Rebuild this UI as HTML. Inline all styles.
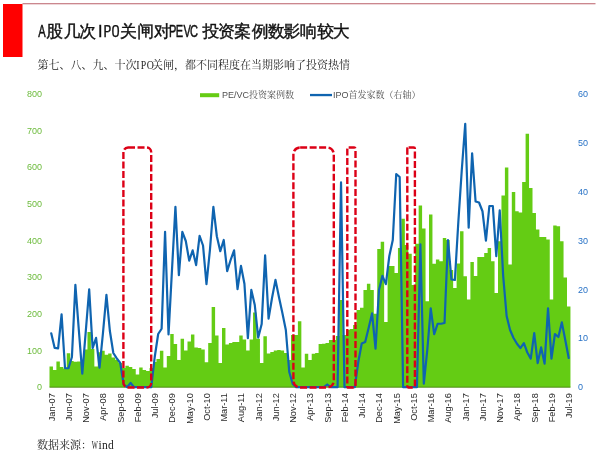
<!DOCTYPE html>
<html><head><meta charset="utf-8"><style>
html,body{margin:0;padding:0;background:#fff;}
body{width:600px;height:455px;overflow:hidden;}
svg{display:block;}
.tc{font-family:"WenQuanYi Zen Hei","Noto Sans CJK SC",sans-serif;font-size:16.8px;fill:#111;stroke:#111;stroke-width:0.4;}
.tl{font-family:"WenQuanYi Zen Hei Mono","WenQuanYi Zen Hei",sans-serif;font-size:16.3px;fill:#111;stroke:#111;stroke-width:0.25;}
.tsl{font-family:"Liberation Sans",sans-serif;font-size:15.6px;fill:#111;stroke:#111;stroke-width:0.45;}
.ti{font-family:"Liberation Sans",sans-serif;font-size:16.3px;fill:#111;stroke:#111;stroke-width:0.4;}
.sub{font-family:"Liberation Serif","Noto Serif CJK SC",serif;font-size:11px;fill:#222;}
.subs{font-family:"Liberation Serif",serif;font-size:12px;fill:#222;}
.subm{font-family:"Liberation Mono",monospace;font-size:11px;fill:#222;}
.lg text{font-family:"Liberation Sans",sans-serif;font-size:9px;fill:#6cbb3c;}
.rg text{font-family:"Liberation Sans",sans-serif;font-size:9px;fill:#2872c6;}
.xl text{font-family:"Liberation Sans",sans-serif;font-size:9.2px;fill:#2a2a2a;text-anchor:end;}
.leg{font-family:"Liberation Sans","Noto Serif CJK SC",serif;font-size:9px;fill:#505050;}
.bx rect{fill:none;stroke:#dc0016;stroke-width:2.4;stroke-dasharray:7 2.5;}
</style></head><body>
<svg width="600" height="455" viewBox="0 0 600 455">
<rect x="3" y="4" width="19.5" height="53" fill="#ff0000"/>
<rect x="22.5" y="3.1" width="573" height="1.2" fill="#c67b82"/>
<text y="37.4"><tspan class="tsl" x="38.3" textLength="7.39" lengthAdjust="spacingAndGlyphs">A</tspan><tspan class="tc" x="46.25 63.5 79.25">股几次</tspan><tspan class="ti" x="98">I</tspan><tspan class="tl" x="103.25 111.5">PO</tspan><tspan class="tc" x="120 137.25 153.75">关闸对</tspan><tspan class="tsl" x="168.89" textLength="7.39" lengthAdjust="spacingAndGlyphs">P</tspan><tspan class="tsl" x="175.69" textLength="7.39" lengthAdjust="spacingAndGlyphs">E</tspan><tspan class="tsl" x="183.4" textLength="7.39" lengthAdjust="spacingAndGlyphs">V</tspan><tspan class="tsl" x="189.89" textLength="8" lengthAdjust="spacingAndGlyphs">C</tspan><tspan class="tc" x="202.5 217.9 234.3 251.7 268.1 283.5 299.9 317.3 332.7">投资案例数影响较大</tspan></text>
<text class="sub" y="69"><tspan x="37.5">第七、八、九、十次</tspan><tspan class="subs" style="font-size:12px" x="136.3" textLength="3.28" lengthAdjust="spacingAndGlyphs">I</tspan><tspan class="subs" style="font-size:12px" x="140.73" textLength="5.47" lengthAdjust="spacingAndGlyphs">P</tspan><tspan class="subs" style="font-size:12px" x="146.63" textLength="7.1" lengthAdjust="spacingAndGlyphs">O</tspan><tspan x="152">关闸，都不同程度在当期影响了投资热情</tspan></text>
<rect x="200" y="93.2" width="19.2" height="4" fill="#66cc14"/>
<text x="222" y="98" class="leg">PE/VC投资案例数</text>
<rect x="310" y="93.9" width="22" height="2.3" fill="#0f64b0"/>
<text x="333" y="98" class="leg">IPO首发家数（右轴）</text>
<g class="lg"><text x="42" y="97.2" text-anchor="end">800</text>
<text x="42" y="133.82" text-anchor="end">700</text>
<text x="42" y="170.45" text-anchor="end">600</text>
<text x="42" y="207.07" text-anchor="end">500</text>
<text x="42" y="243.7" text-anchor="end">400</text>
<text x="42" y="280.32" text-anchor="end">300</text>
<text x="42" y="316.95" text-anchor="end">200</text>
<text x="42" y="353.57" text-anchor="end">100</text>
<text x="42" y="390.2" text-anchor="end">0</text></g>
<g class="rg"><text x="578" y="97.2">60</text>
<text x="578" y="146.03">50</text>
<text x="578" y="194.87">40</text>
<text x="578" y="243.7">30</text>
<text x="578" y="292.53">20</text>
<text x="578" y="341.37">10</text>
<text x="578" y="390.2">0</text></g>
<path d="M49.5 387 L49.5 366.6 L52.95 366.6 L52.95 369.9 L56.4 369.9 L56.4 361.5 L59.85 361.5 L59.85 367 L63.3 367 L63.3 368.5 L66.75 368.5 L66.75 353.3 L70.2 353.3 L70.2 361 L73.65 361 L73.65 361.8 L77.1 361.8 L77.1 361.5 L80.55 361.5 L80.55 361.5 L84 361.5 L84 349.5 L87.45 349.5 L87.45 332 L90.9 332 L90.9 349 L94.35 349 L94.35 366.6 L97.8 366.6 L97.8 352.3 L101.25 352.3 L101.25 350.8 L104.7 350.8 L104.7 354.8 L108.15 354.8 L108.15 353.5 L111.6 353.5 L111.6 357.5 L115.05 357.5 L115.05 359.7 L118.5 359.7 L118.5 363.1 L121.95 363.1 L121.95 368 L125.4 368 L125.4 365.75 L128.85 365.75 L128.85 367 L132.3 367 L132.3 368.9 L135.75 368.9 L135.75 374.5 L139.2 374.5 L139.2 367.5 L142.65 367.5 L142.65 370 L146.1 370 L146.1 371 L149.55 371 L149.55 368 L153 368 L153 362 L156.45 362 L156.45 358.9 L159.9 358.9 L159.9 350.7 L163.35 350.7 L163.35 367.5 L166.8 367.5 L166.8 356.1 L170.25 356.1 L170.25 334 L173.7 334 L173.7 344 L177.15 344 L177.15 360 L180.6 360 L180.6 338.8 L184.05 338.8 L184.05 350.6 L187.5 350.6 L187.5 341.5 L190.95 341.5 L190.95 334.4 L194.4 334.4 L194.4 347.5 L197.85 347.5 L197.85 348 L201.3 348 L201.3 349.5 L204.75 349.5 L204.75 362.3 L208.2 362.3 L208.2 343 L211.65 343 L211.65 306.9 L215.1 306.9 L215.1 335.6 L218.55 335.6 L218.55 363.1 L222 363.1 L222 328.1 L225.45 328.1 L225.45 344.4 L228.9 344.4 L228.9 343.1 L232.35 343.1 L232.35 342 L235.8 342 L235.8 341.9 L239.25 341.9 L239.25 335.6 L242.7 335.6 L242.7 339.4 L246.15 339.4 L246.15 350.6 L249.6 350.6 L249.6 339.4 L253.05 339.4 L253.05 312.5 L256.5 312.5 L256.5 338.75 L259.95 338.75 L259.95 363.1 L263.4 363.1 L263.4 336.25 L266.85 336.25 L266.85 353.5 L270.3 353.5 L270.3 352 L273.75 352 L273.75 350.5 L277.2 350.5 L277.2 350 L280.65 350 L280.65 350.5 L284.1 350.5 L284.1 353 L287.55 353 L287.55 360 L291 360 L291 335 L294.45 335 L294.45 335 L297.9 335 L297.9 321.25 L301.35 321.25 L301.35 367.5 L304.8 367.5 L304.8 353.75 L308.25 353.75 L308.25 360 L311.7 360 L311.7 353.75 L315.15 353.75 L315.15 353 L318.6 353 L318.6 344 L322.05 344 L322.05 343.75 L325.5 343.75 L325.5 343 L328.95 343 L328.95 340 L332.4 340 L332.4 340 L335.85 340 L335.85 336 L339.3 336 L339.3 299.9 L342.75 299.9 L342.75 335 L346.2 335 L346.2 330 L349.65 330 L349.65 329 L353.1 329 L353.1 325 L356.55 325 L356.55 310 L360 310 L360 307.8 L363.45 307.8 L363.45 290 L366.9 290 L366.9 283.75 L370.35 283.75 L370.35 290 L373.8 290 L373.8 313.75 L377.25 313.75 L377.25 248.9 L380.7 248.9 L380.7 241.7 L384.15 241.7 L384.15 321.9 L387.6 321.9 L387.6 266 L391.05 266 L391.05 266 L394.5 266 L394.5 273 L397.95 273 L397.95 248 L401.4 248 L401.4 218.75 L404.85 218.75 L404.85 245 L408.3 245 L408.3 253.75 L411.75 253.75 L411.75 285 L415.2 285 L415.2 243.75 L418.65 243.75 L418.65 205.6 L422.1 205.6 L422.1 228.5 L425.55 228.5 L425.55 301.25 L429 301.25 L429 214.5 L432.45 214.5 L432.45 263.75 L435.9 263.75 L435.9 259.4 L439.35 259.4 L439.35 261.25 L442.8 261.25 L442.8 238 L446.25 238 L446.25 240 L449.7 240 L449.7 270 L453.15 270 L453.15 288 L456.6 288 L456.6 263.5 L460.05 263.5 L460.05 231.25 L463.5 231.25 L463.5 276.25 L466.95 276.25 L466.95 299.4 L470.4 299.4 L470.4 262 L473.85 262 L473.85 276 L477.3 276 L477.3 256.9 L480.75 256.9 L480.75 256.9 L484.2 256.9 L484.2 253 L487.65 253 L487.65 248 L491.1 248 L491.1 261.25 L494.55 261.25 L494.55 293 L498 293 L498 241.25 L501.45 241.25 L501.45 195.6 L504.9 195.6 L504.9 167.5 L508.35 167.5 L508.35 264.4 L511.8 264.4 L511.8 191.9 L515.25 191.9 L515.25 211.25 L518.7 211.25 L518.7 212.5 L522.15 212.5 L522.15 181.9 L525.6 181.9 L525.6 133.75 L529.05 133.75 L529.05 188.1 L532.5 188.1 L532.5 213 L535.95 213 L535.95 229.4 L539.4 229.4 L539.4 236.9 L542.85 236.9 L542.85 236.9 L546.3 236.9 L546.3 239.4 L549.75 239.4 L549.75 299.4 L553.2 299.4 L553.2 225.6 L556.65 225.6 L556.65 226.25 L560.1 226.25 L560.1 241.25 L563.55 241.25 L563.55 277.5 L567 277.5 L567 306.5 L570.45 306.5 L570.45 387 Z" fill="#64cc14"/>
<rect x="49.5" y="386.7" width="521" height="1" fill="#4c8c12"/>
<path d="M51.23 333.3 L54.67 347.9 L58.12 348.3 L61.58 314.4 L65.03 368.25 L68.47 368.25 L71.92 357 L75.38 284.9 L78.83 330 L82.28 373.6 L85.72 332 L89.18 289.4 L92.62 348.2 L96.08 337.9 L99.53 367.6 L102.97 333 L106.43 294.9 L109.88 331 L113.33 353 L116.78 358.3 L120.23 363 L123.67 384.5 L127.12 387.2 L130.57 382.9 L134.03 387.2 L137.48 387.2 L140.93 387.2 L144.38 387.2 L147.82 387.2 L151.28 387.2 L154.73 357 L158.18 334 L161.62 328.75 L165.07 231.9 L168.53 334.35 L171.98 270 L175.43 206.9 L178.88 275.1 L182.33 231.9 L185.78 241 L189.22 260.6 L192.68 250.4 L196.12 265.1 L199.58 235.9 L203.03 245.5 L206.47 284.1 L209.93 250 L213.38 206.9 L216.83 236.25 L220.28 251.2 L223.73 240 L227.18 271.2 L230.62 260 L234.08 250.4 L237.53 289.1 L240.98 265.9 L244.43 283.75 L247.88 338.1 L251.33 289.9 L254.78 305 L258.23 337.6 L261.68 324 L265.12 255.4 L268.58 318.6 L272.02 298 L275.48 279.9 L278.93 297 L282.38 313 L285.83 330 L289.27 372 L292.73 384 L296.18 387.2 L299.62 387.2 L303.08 387.2 L306.53 387.2 L309.98 387.2 L313.43 387.2 L316.88 387.2 L320.32 387.2 L323.78 387.2 L327.23 384.5 L330.68 387.2 L334.12 387.2 L337.57 387.2 L341.03 182.4 L344.48 387.2 L347.93 387.2 L351.38 387.2 L354.82 387.2 L358.28 362 L361.73 343.5 L365.18 342 L368.62 328 L372.07 313.4 L375.53 348.6 L378.98 290 L382.43 275.8 L385.88 284.2 L389.33 256 L392.78 240 L396.23 174 L399.68 177 L403.12 387.2 L406.58 387.2 L410.03 387.2 L413.48 387.2 L416.93 387.2 L420.38 244.4 L423.83 383.6 L427.28 350 L430.73 308.4 L434.18 334.1 L437.62 323.75 L441.08 323.75 L444.53 323 L447.98 240 L451.43 279.5 L454.88 280 L458.33 222 L461.78 170 L465.23 123.9 L468.68 227.6 L472.12 153.4 L475.58 201.5 L479.03 202.5 L482.48 211.25 L485.93 240.6 L489.38 206 L492.83 206 L496.28 256.2 L499.73 210.4 L503.18 276 L506.62 316 L510.08 330 L513.53 338 L516.98 343.75 L520.42 348.1 L523.88 343.15 L527.33 352.5 L530.78 358.6 L534.23 333.15 L537.67 363.1 L541.12 347.4 L544.58 363.6 L548.03 308.4 L551.48 358.6 L554.92 334 L558.38 337 L561.83 322.4 L565.27 340 L568.73 358" fill="none" stroke="#0f64b0" stroke-width="2.2" stroke-linejoin="round" stroke-linecap="round"/>
<g class="bx"><rect x="123.4" y="147.5" width="27.8" height="240" rx="4.63"/>
<rect x="293.4" y="147.5" width="40.4" height="240" rx="6.73"/>
<rect x="347.3" y="147.5" width="8.2" height="240" rx="1.37"/>
<rect x="407.3" y="147.5" width="7.6" height="240" rx="1.27"/></g>
<g class="xl"><text transform="translate(54.62 393.2) rotate(-90)">Jan-07</text>
<text transform="translate(71.88 393.2) rotate(-90)">Jun-07</text>
<text transform="translate(89.12 393.2) rotate(-90)">Nov-07</text>
<text transform="translate(106.38 393.2) rotate(-90)">Apr-08</text>
<text transform="translate(123.63 393.2) rotate(-90)">Sep-08</text>
<text transform="translate(140.88 393.2) rotate(-90)">Feb-09</text>
<text transform="translate(158.13 393.2) rotate(-90)">Jul-09</text>
<text transform="translate(175.38 393.2) rotate(-90)">Dec-09</text>
<text transform="translate(192.62 393.2) rotate(-90)">May-10</text>
<text transform="translate(209.88 393.2) rotate(-90)">Oct-10</text>
<text transform="translate(227.13 393.2) rotate(-90)">Mar-11</text>
<text transform="translate(244.38 393.2) rotate(-90)">Aug-11</text>
<text transform="translate(261.62 393.2) rotate(-90)">Jan-12</text>
<text transform="translate(278.88 393.2) rotate(-90)">Jun-12</text>
<text transform="translate(296.12 393.2) rotate(-90)">Nov-12</text>
<text transform="translate(313.38 393.2) rotate(-90)">Apr-13</text>
<text transform="translate(330.62 393.2) rotate(-90)">Sep-13</text>
<text transform="translate(347.88 393.2) rotate(-90)">Feb-14</text>
<text transform="translate(365.12 393.2) rotate(-90)">Jul-14</text>
<text transform="translate(382.38 393.2) rotate(-90)">Dec-14</text>
<text transform="translate(399.62 393.2) rotate(-90)">May-15</text>
<text transform="translate(416.88 393.2) rotate(-90)">Oct-15</text>
<text transform="translate(434.12 393.2) rotate(-90)">Mar-16</text>
<text transform="translate(451.38 393.2) rotate(-90)">Aug-16</text>
<text transform="translate(468.62 393.2) rotate(-90)">Jan-17</text>
<text transform="translate(485.88 393.2) rotate(-90)">Jun-17</text>
<text transform="translate(503.12 393.2) rotate(-90)">Nov-17</text>
<text transform="translate(520.38 393.2) rotate(-90)">Apr-18</text>
<text transform="translate(537.62 393.2) rotate(-90)">Sep-18</text>
<text transform="translate(554.88 393.2) rotate(-90)">Feb-19</text>
<text transform="translate(572.12 393.2) rotate(-90)">Jul-19</text></g>
<text class="sub" y="449.3"><tspan x="37">数据来源：</tspan><tspan class="subs" style="font-size:11.5px" x="91.8" textLength="6.08" lengthAdjust="spacingAndGlyphs">W</tspan><tspan class="subs" style="font-size:11.5px" x="98.4 102 107.9">ind</tspan></text>
</svg>
</body></html>
